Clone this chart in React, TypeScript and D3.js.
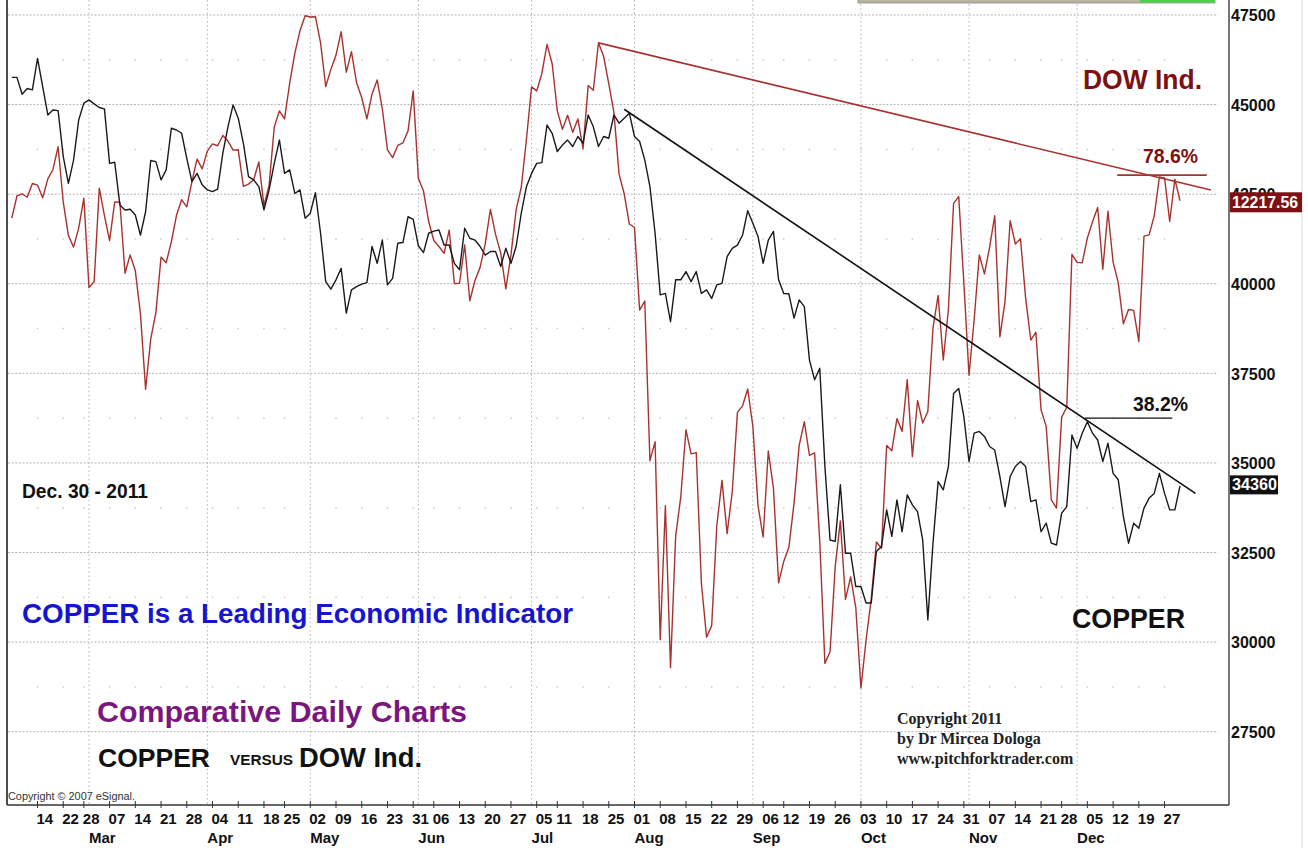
import React from 'react';
import * as d3 from 'd3';

// ---------- DATA ----------
const HOLIDAYS = ['2011-02-21', '2011-04-22', '2011-05-30', '2011-07-04', '2011-09-05', '2011-11-24', '2011-12-26'];

// COPPER daily closes (Feb 7 2011 .. Dec 30 2011)
const copperFeb = [45760, 45760, 45290, 45450, 45410, 46290, 45500, 44710, 44850, 44830, 43550, 42800, 43450, 44570, 45040];
const copperMar = [45130, 45020, 44920, 44880, 43360, 43390, 42200, 42060, 42080, 41920, 41360, 42010, 43440, 43410, 42900, 43180, 44340, 44290, 44200, 43500, 42850, 43080, 42760];
const copperApr = [42620, 42570, 42640, 43640, 44380, 44990, 44620, 43920, 42990, 42900, 42710, 42060, 42620, 43360, 44010, 43080, 43180, 42520, 42620, 41830];
const copperMay = [41970, 42540, 41410, 40060, 39850, 40110, 40430, 39180, 39830, 39920, 39990, 40030, 41040, 40570, 41220, 39970, 40150, 41130, 41150, 41870, 41800];
const copperJun = [41060, 40870, 41410, 41470, 41500, 41080, 41080, 40570, 40390, 41550, 41270, 41220, 41040, 40800, 40900, 40900, 40480, 40990, 40570, 41040, 41970, 42710];
const copperJul = [43080, 43360, 43380, 44430, 44200, 43690, 43870, 44010, 43830, 44110, 43920, 44710, 44380, 43830, 44110, 44060, 44710, 44480, 44620, 44760];
const copperAug = [44110, 43970, 43450, 42710, 41410, 39690, 39730, 38940, 40110, 40110, 40340, 40060, 40340, 39730, 39830, 39590, 39970, 40010, 40760, 40990, 41080, 41360, 42040];
const copperSep = [41690, 41320, 40570, 41220, 41460, 40110, 39730, 39720, 39040, 39550, 39360, 37870, 37320, 37640, 34900, 32850, 32810, 34390, 32480, 32480, 31550];
const copperOct = [31550, 31090, 31090, 32530, 32670, 33690, 32950, 33970, 33080, 34110, 33830, 33640, 32850, 30620, 32760, 34480, 34250, 34900, 36940, 37080, 36290];
const copperNov = [35040, 35830, 35880, 35740, 35460, 35360, 34620, 33780, 34620, 34900, 35040, 34900, 33920, 33970, 33080, 33320, 32760, 32710, 33600, 33780, 35780];
const copperDec = [35410, 35830, 36150, 35830, 35640, 35040, 35550, 34710, 34530, 33500, 32760, 33320, 33180, 33740, 34020, 34150, 34710, 34150, 33690, 33690, 34360];

// DOW Industrials daily closes (same days)
const dowFeb = [12162, 12233, 12240, 12229, 12273, 12268, 12227, 12288, 12318, 12391, 12213, 12106, 12069, 12130, 12226];
const dowMar = [11939, 11958, 12258, 12170, 12090, 12214, 12213, 11985, 12044, 11993, 11855, 11613, 11775, 11859, 12037, 12019, 12086, 12171, 12221, 12198, 12279, 12351, 12320];
const dowApr = [12377, 12400, 12394, 12427, 12409, 12380, 12381, 12264, 12271, 12285, 12342, 12202, 12267, 12454, 12506, 12480, 12595, 12691, 12763, 12811];
const dowMay = [12807, 12808, 12724, 12584, 12639, 12685, 12760, 12630, 12696, 12596, 12548, 12480, 12560, 12605, 12512, 12381, 12356, 12395, 12403, 12442, 12570];
const dowJun = [12290, 12249, 12151, 12090, 12071, 12049, 12124, 11952, 11953, 12076, 11897, 11962, 12004, 12080, 12190, 12110, 12050, 11935, 12044, 12189, 12261, 12414];
const dowJul = [12583, 12570, 12626, 12719, 12657, 12506, 12447, 12492, 12437, 12480, 12385, 12587, 12572, 12724, 12681, 12593, 12501, 12303, 12240, 12143];
const dowAug = [12132, 11867, 11896, 11384, 11445, 10810, 11240, 10720, 11143, 11269, 11483, 11406, 11410, 10991, 10818, 10855, 11177, 11321, 11150, 11285, 11539, 11560, 11614];
const dowSep = [11494, 11240, 11139, 11415, 11296, 10992, 11061, 11106, 11247, 11433, 11509, 11401, 11409, 11125, 10734, 10771, 11044, 11191, 10939, 11011, 10913];
const dowOct = [10655, 10809, 10940, 11123, 11103, 11433, 11416, 11519, 11478, 11644, 11397, 11577, 11505, 11542, 11809, 11914, 11707, 11869, 12209, 12231, 11955];
const dowNov = [11658, 11836, 12044, 11983, 12068, 12170, 11781, 11894, 12154, 12079, 12096, 11906, 11771, 11796, 11547, 11494, 11258, 11232, 11523, 11556, 12046];
const dowDec = [12020, 12019, 12098, 12150, 12196, 11998, 12184, 12021, 11955, 11823, 11869, 11866, 11766, 12104, 12108, 12170, 12294, 12291, 12151, 12287, 12217.56];

const copper = [...copperFeb, ...copperMar, ...copperApr, ...copperMay, ...copperJun, ...copperJul, ...copperAug, ...copperSep, ...copperOct, ...copperNov, ...copperDec];
const dow = [...dowFeb, ...dowMar, ...dowApr, ...dowMay, ...dowJun, ...dowJul, ...dowAug, ...dowSep, ...dowOct, ...dowNov, ...dowDec];

const weekTicks = ['2011-02-14', '2011-02-22', '2011-02-28', '2011-03-07', '2011-03-14', '2011-03-21', '2011-03-28', '2011-04-04', '2011-04-11', '2011-04-18', '2011-04-25', '2011-05-02', '2011-05-09', '2011-05-16', '2011-05-23', '2011-05-31', '2011-06-06', '2011-06-13', '2011-06-20', '2011-06-27', '2011-07-05', '2011-07-11', '2011-07-18', '2011-07-25', '2011-08-01', '2011-08-08', '2011-08-15', '2011-08-22', '2011-08-29', '2011-09-06', '2011-09-12', '2011-09-19', '2011-09-26', '2011-10-03', '2011-10-10', '2011-10-17', '2011-10-24', '2011-10-31', '2011-11-07', '2011-11-14', '2011-11-21', '2011-11-28', '2011-12-05', '2011-12-12', '2011-12-19', '2011-12-27'];
const monthLabels = ['Mar', 'Apr', 'May', 'Jun', 'Jul', 'Aug', 'Sep', 'Oct', 'Nov', 'Dec'];
const monthStarts = ['2011-03-01', '2011-04-01', '2011-05-02', '2011-06-01', '2011-07-01', '2011-08-01', '2011-09-01', '2011-10-03', '2011-11-01', '2011-12-01'];
const copperTicks = [27500, 30000, 32500, 35000, 37500, 40000, 42500, 45000, 47500];

// trend lines / retracement marks (trading-day index, value)
const dowTrend = [{ day: 114, value: 12724 }, { day: 233, value: 12252 }];
const copperTrend = [{ day: 119, value: 44870 }, { day: 230, value: 34150 }];
const dowFib = [{ day: 214.8, value: 12300 }, { day: 232.2, value: 12300 }];
const copperFib = [{ day: 208.5, value: 36250 }, { day: 225.5, value: 36250 }];

// ---------- CHART ----------
const SANS = '"Liberation Sans", Arial, Helvetica, sans-serif';
const SERIF = '"Liberation Serif", "Times New Roman", serif';
const RED = '#a8322f';
const DARKRED = '#7d1111';

export default function App() {
  const fmt = d3.timeFormat('%Y-%m-%d');
  const days = d3.timeDay
    .range(new Date(2011, 1, 7), new Date(2011, 11, 31))
    .filter((d) => d.getDay() !== 0 && d.getDay() !== 6 && !HOLIDAYS.includes(fmt(d)));
  const idx = new Map(days.map((d, i) => [fmt(d), i] as [string, number]));

  const x = d3.scaleLinear().domain([0, days.length - 1]).range([11.8, 1180]);
  const yC = d3.scaleLinear().domain([27500, 47500]).range([731.7, 15]);
  const yD = d3.scaleLinear().domain([10514.8, 12813.4]).range([731.7, 15]);

  const copperPath = d3.line<number>().x((_, i) => x(i)).y((v) => yC(v))(copper) || '';
  const dowPath = d3.line<number>().x((_, i) => x(i)).y((v) => yD(v))(dow) || '';
  const segC = d3.line<{ day: number; value: number }>().x((p) => x(p.day)).y((p) => yC(p.value));
  const segD = d3.line<{ day: number; value: number }>().x((p) => x(p.day)).y((p) => yD(p.value));

  const AXIS_X = 1229;
  const AXIS_Y = 805;
  const GRID_R = 1218;

  const weekX = weekTicks.map((d) => x(idx.get(d) ?? 0));
  const monthX = monthStarts.map((d) => x(idx.get(d) ?? 0));
  const midLevels = copperTicks.slice(0, -1).map((t) => t + 1250);

  const lastDow = dow[dow.length - 1];
  const lastCopper = copper[copper.length - 1];

  return (
    <svg width={1308} height={848} style={{ position: 'absolute', left: 0, top: 0, display: 'block', background: '#fff' }}
      xmlns="http://www.w3.org/2000/svg">
      <rect x={0} y={0} width={1308} height={848} fill="#fff" />

      {/* major horizontal grid */}
      {copperTicks.map((t) => (
        <line key={'h' + t} x1={8} x2={GRID_R} y1={yC(t)} y2={yC(t)} stroke="#b4b4b4" strokeWidth={1} strokeDasharray="2 1.6" />
      ))}
      {/* vertical month grid */}
      {monthX.map((mx, i) => (
        <line key={'v' + i} x1={mx} x2={mx} y1={0} y2={AXIS_Y} stroke="#b4b4b4" strokeWidth={1} strokeDasharray="1.6 2.6" />
      ))}
      {/* minor dots */}
      {midLevels.map((lv) =>
        weekX.map((wx, j) => (
          <rect key={'m' + lv + '_' + j} x={wx - 0.8} y={yC(lv) - 0.8} width={1.6} height={1.6} fill="#cfcfcf" />
        ))
      )}

      {/* top partial bar */}
      <rect x={858} y={-2} width={357} height={5} fill="#b8b4a4" stroke="#8a8a80" strokeWidth={0.8} />
      <rect x={1140} y={-2} width={75} height={4.5} fill="#4fcf4f" />

      {/* frame & axes */}
      <line x1={7} x2={7} y1={0} y2={AXIS_Y} stroke="#222" strokeWidth={1.6} />
      <line x1={7} x2={AXIS_X} y1={AXIS_Y} y2={AXIS_Y} stroke="#333" strokeWidth={1.4} />
      <line x1={AXIS_X} x2={AXIS_X} y1={0} y2={AXIS_Y} stroke="#555" strokeWidth={1.6} />
      <line x1={1302} x2={1302} y1={0} y2={848} stroke="#d8d8d8" strokeWidth={1} />

      {/* x ticks & labels */}
      {weekX.map((wx, i) => (
        <g key={'t' + i}>
          <line x1={wx} x2={wx} y1={AXIS_Y - 4} y2={AXIS_Y + 3} stroke="#333" strokeWidth={1} />
          <text x={wx - 1} y={824} fontFamily={SANS} fontSize={15} fontWeight="bold" fill="#111">
            {weekTicks[i].slice(8)}
          </text>
        </g>
      ))}
      {monthX.map((mx, i) => (
        <text key={'ml' + i} x={mx} y={843} fontFamily={SANS} fontSize={15} fontWeight="bold" fill="#111">
          {monthLabels[i]}
        </text>
      ))}

      {/* y labels */}
      {copperTicks.map((t) => (
        <text key={'yl' + t} x={1231} y={yC(t) + 6.3} fontFamily={SANS} fontSize={16} fontWeight="bold" fill="#111">
          {t}
        </text>
      ))}

      {/* series */}
      <path d={dowPath} fill="none" stroke={RED} strokeWidth={1.4} strokeLinejoin="round" />
      <path d={copperPath} fill="none" stroke="#1a1a1a" strokeWidth={1.4} strokeLinejoin="round" />

      {/* trend lines */}
      <path d={segD(dowTrend) || ''} fill="none" stroke={RED} strokeWidth={1.6} />
      <path d={segC(copperTrend) || ''} fill="none" stroke="#111" strokeWidth={1.6} />
      <path d={segD(dowFib) || ''} fill="none" stroke={RED} strokeWidth={1.6} />
      <path d={segC(copperFib) || ''} fill="none" stroke="#111" strokeWidth={1.4} />

      {/* last value boxes */}
      <rect x={1230} y={yD(lastDow) - 8.5} width={72} height={20} fill={DARKRED} />
      <text x={1232} y={yD(lastDow) + 7.5} fontFamily={SANS} fontSize={16} fontWeight="bold" fill="#fff" textLength={66} lengthAdjust="spacingAndGlyphs">
        {lastDow.toFixed(2)}
      </text>
      <rect x={1230} y={yC(lastCopper) - 10.5} width={48} height={19} fill="#111" />
      <text x={1232} y={yC(lastCopper) + 4.5} fontFamily={SANS} fontSize={16} fontWeight="bold" fill="#fff" textLength={45} lengthAdjust="spacingAndGlyphs">
        {lastCopper}
      </text>

      {/* annotations */}
      <text x={1083} y={89} fontFamily={SANS} fontSize={28} fontWeight="bold" fill={DARKRED} textLength={119} lengthAdjust="spacingAndGlyphs">DOW Ind.</text>
      <text x={1143} y={162.5} fontFamily={SANS} fontSize={21} fontWeight="bold" fill={DARKRED} textLength={55} lengthAdjust="spacingAndGlyphs">78.6%</text>
      <text x={1133} y={410.5} fontFamily={SANS} fontSize={21} fontWeight="bold" fill="#111" textLength={55} lengthAdjust="spacingAndGlyphs">38.2%</text>
      <text x={22} y={498} fontFamily={SANS} fontSize={20} fontWeight="bold" fill="#111" textLength={126} lengthAdjust="spacingAndGlyphs">Dec. 30 - 2011</text>
      <text x={22} y={623} fontFamily={SANS} fontSize={28} fontWeight="bold" fill="#1515d0" textLength={551} lengthAdjust="spacingAndGlyphs">COPPER is a Leading Economic Indicator</text>
      <text x={97} y={722} fontFamily={SANS} fontSize={30} fontWeight="bold" fill="#7a177f" textLength={370} lengthAdjust="spacingAndGlyphs">Comparative Daily Charts</text>
      <text x={98} y={767} fontFamily={SANS} fontSize={26} fontWeight="bold" fill="#111" textLength={112} lengthAdjust="spacingAndGlyphs">COPPER</text>
      <text x={230} y={765} fontFamily={SANS} fontSize={14} fontWeight="bold" fill="#111" textLength={63} lengthAdjust="spacingAndGlyphs">VERSUS</text>
      <text x={299} y={767} fontFamily={SANS} fontSize={27} fontWeight="bold" fill="#111" textLength={123} lengthAdjust="spacingAndGlyphs">DOW Ind.</text>
      <text x={1072} y={628} fontFamily={SANS} fontSize={28} fontWeight="bold" fill="#111" textLength={113} lengthAdjust="spacingAndGlyphs">COPPER</text>
      <text fontFamily={SERIF} fontSize={16} fontWeight="bold" fill="#222">
        <tspan x={897} y={724}>Copyright 2011</tspan>
        <tspan x={897} y={744}>by Dr Mircea Dologa</tspan>
        <tspan x={897} y={764}>www.pitchforktrader.com</tspan>
      </text>
      <text x={8} y={800} fontFamily={SANS} fontSize={10} fill="#333" textLength={127} lengthAdjust="spacingAndGlyphs">Copyright © 2007 eSignal.</text>
    </svg>
  );
}
